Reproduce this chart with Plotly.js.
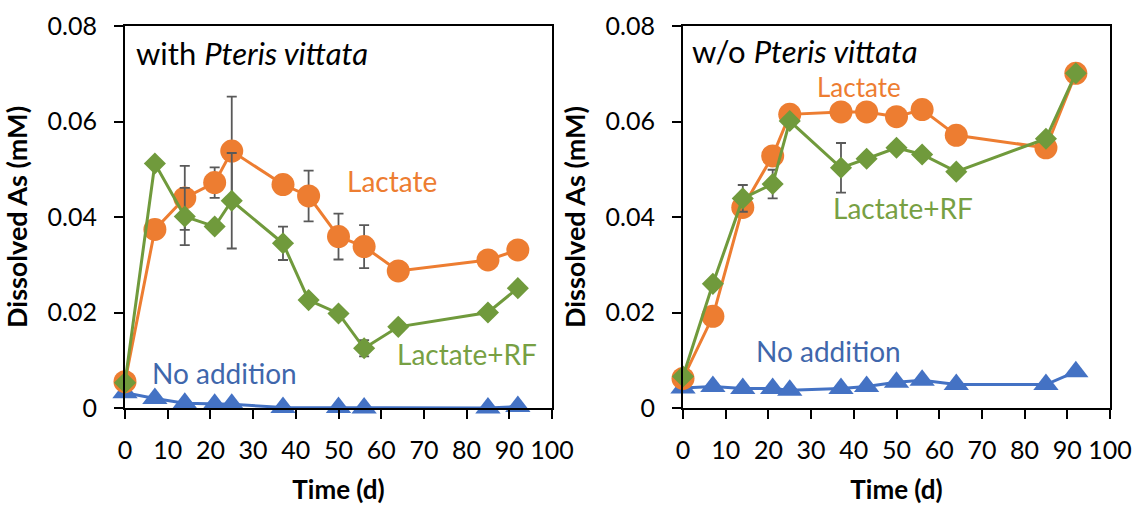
<!DOCTYPE html>
<html>
<head>
<meta charset="utf-8">
<script src="https://cdn.plot.ly/plotly-3.0.1.min.js"></script>
<style>html,body{margin:0;padding:0;background:#fff;}#chart{width:1133px;height:506px;}</style>
</head>
<body>
<div id="chart"></div>
<script>
// ---- data (time in days, dissolved As in mM) ----
const daysWith = [0, 7, 14, 21, 25, 37, 43, 50, 56, 64, 85, 92];
const lactateWith = [0.0055, 0.0374, 0.0440, 0.0472, 0.0538, 0.0468, 0.0444, 0.0359, 0.0338, 0.0287, 0.0310, 0.0331];
const lactateWithErr = [0, 0, 0.0067, 0.0032, 0.0114, 0, 0.0053, 0.0048, 0.0045, 0, 0, 0];
const lactateRFWith = [0.0053, 0.0512, 0.0401, 0.0380, 0.0434, 0.0345, 0.0226, 0.0198, 0.0125, 0.0170, 0.0200, 0.0251];
const lactateRFWithErr = [0, 0, 0.0060, 0, 0.0100, 0.0035, 0, 0, 0.0017, 0, 0, 0];
const daysNoAddWith = [0, 7, 14, 21, 25, 37, 50, 56, 85, 92];
const noAddWith = [0.0032, 0.0020, 0.0010, 0.0008, 0.0008, 0.0001, 0.0001, 0.0000, 0.0000, 0.0003];

const daysWo = [0, 7, 14, 21, 25, 37, 43, 50, 56, 64, 85, 92];
const lactateWo = [0.0062, 0.0192, 0.0420, 0.0528, 0.0615, 0.0620, 0.0620, 0.0610, 0.0625, 0.0571, 0.0545, 0.0701];
const lactateRFWo = [0.0066, 0.0260, 0.0439, 0.0469, 0.0601, 0.0503, 0.0522, 0.0545, 0.0531, 0.0495, 0.0564, 0.0701];
const lactateRFWoErr = [0, 0, 0.0028, 0.0030, 0, 0.0052, 0, 0, 0, 0, 0, 0];
const noAddWo = [0.0042, 0.0045, 0.0041, 0.0041, 0.0037, 0.0041, 0.0045, 0.0054, 0.0058, 0.0049, 0.0049, 0.0076];

const xTicks = [0, 10, 20, 30, 40, 50, 60, 70, 80, 90, 100];
const yTicks = [0, 0.02, 0.04, 0.06, 0.08];
const yTickText = ['0', '0.02', '0.04', '0.06', '0.08'];

// ---- styles ----
const ORANGE = '#ED7D31', GREEN = '#709A3C', BLUE = '#4472C4', ERR = '#595959';
const FONT = 'Lato, "Open Sans", sans-serif';
const W = 1133, H = 506;
const px = x => x / W, py = y => 1 - y / H;

function errObj(arr) {
  return {type: 'data', array: arr, visible: true, color: ERR, thickness: 1.8, width: 5};
}
function series(x, y, color, symbol, size, xa, ya, err) {
  const t = {
    x: x, y: y, xaxis: xa, yaxis: ya, type: 'scatter', mode: 'lines+markers',
    line: {color: color, width: 3},
    marker: {color: color, symbol: symbol, size: size},
    cliponaxis: false, showlegend: false, hoverinfo: 'x+y'
  };
  if (err) t.error_y = errObj(err);
  return t;
}

const data = [
  series(daysNoAddWith, noAddWith, BLUE, 'triangle-up', 22, 'x', 'y'),
  series(daysWith, lactateWith, ORANGE, 'circle', 23, 'x', 'y', lactateWithErr),
  series(daysWith, lactateRFWith, GREEN, 'diamond', 17, 'x', 'y', lactateRFWithErr),
  series(daysWo, noAddWo, BLUE, 'triangle-up', 22, 'x2', 'y2'),
  series(daysWo, lactateWo, ORANGE, 'circle', 23, 'x2', 'y2'),
  series(daysWo, lactateRFWo, GREEN, 'diamond', 17, 'x2', 'y2', lactateRFWoErr)
];

function xAxis(domain, anchor) {
  return {
    domain: domain, anchor: anchor, range: [0, 100], tickvals: xTicks,
    showline: true, linecolor: '#000', linewidth: 2, mirror: true,
    ticks: 'outside', ticklen: 9, tickwidth: 2, tickcolor: '#000',
    ticklabelstandoff: 10,
    showgrid: false, zeroline: false,
    tickfont: {family: FONT, size: 25, color: '#000'},
    title: {text: '<b>Time (d)</b>', font: {family: FONT, size: 26, color: '#000'}, standoff: 18}
  };
}
function yAxis(domain, anchor) {
  return {
    domain: domain, anchor: anchor, range: [0, 0.08], tickvals: yTicks, ticktext: yTickText,
    showline: true, linecolor: '#000', linewidth: 2, mirror: true,
    ticks: 'outside', ticklen: 9, tickwidth: 2, tickcolor: '#000',
    ticklabelstandoff: 12,
    showgrid: false, zeroline: false,
    tickfont: {family: FONT, size: 25, color: '#000'},
    title: {text: '<b>Dissolved As (mM)</b>', font: {family: FONT, size: 27, color: '#000'}, standoff: 12}
  };
}

function note(text, x, y, color, size) {
  return {text: text, x: px(x), y: py(y), xref: 'paper', yref: 'paper', xanchor: 'left', yanchor: 'middle',
          showarrow: false, font: {family: FONT, size: size, color: color}};
}

const layout = {
  width: W, height: H, margin: {l: 0, r: 0, t: 0, b: 0},
  paper_bgcolor: '#fff', plot_bgcolor: '#fff', showlegend: false,
  xaxis: xAxis([px(125), px(552)], 'y'),
  yaxis: yAxis([py(408), py(26)], 'x'),
  xaxis2: xAxis([px(683), px(1110)], 'y2'),
  yaxis2: yAxis([py(408), py(26)], 'x2'),
  annotations: [
    note('with <i>Pteris vittata</i>', 134, 53, '#000', 31),
    note('Lactate', 345, 181, ORANGE, 28),
    note('Lactate+RF', 395, 354, '#77A043', 28),
    note('No addition', 150, 373, '#3F67AC', 28),
    note('w/o <i>Pteris vittata</i>', 690, 51, '#000', 31),
    note('Lactate', 815, 87, ORANGE, 26),
    note('Lactate+RF', 831, 208, '#77A043', 28),
    note('No addition', 754, 351, '#3F67AC', 28)
  ]
};

Plotly.newPlot('chart', data, layout, {staticPlot: true, displayModeBar: false});
</script>
</body>
</html>
